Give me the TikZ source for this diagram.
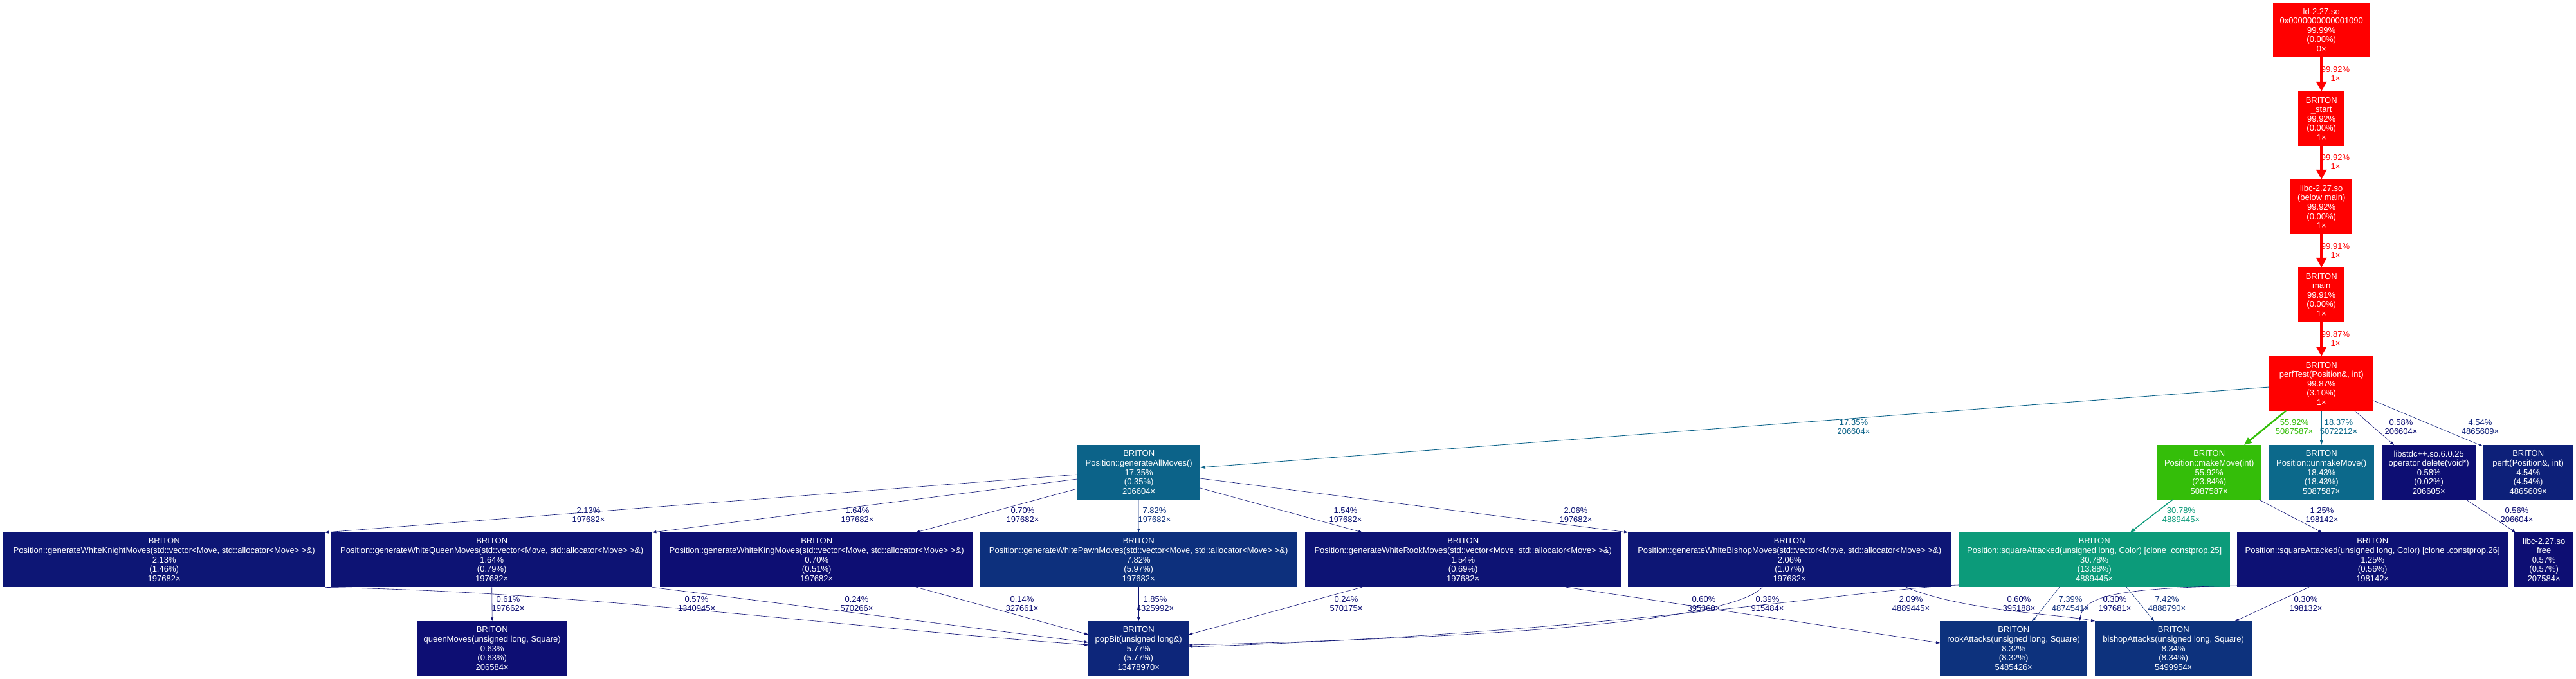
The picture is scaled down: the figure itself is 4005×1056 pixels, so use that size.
\documentclass[tikz,border=0pt]{standalone}
\usepackage{fontspec}
\setmainfont{Liberation Sans}
\usetikzlibrary{arrows.meta,calc}
\definecolor{cRed}{HTML}{FF0000}
\definecolor{cGreen}{HTML}{34BE09}
\definecolor{cTealA}{HTML}{0C6389}
\definecolor{cTealB}{HTML}{0C698B}
\definecolor{cSea}{HTML}{0C9B7A}
\definecolor{cNa}{HTML}{0D0E73}
\definecolor{cNb}{HTML}{0D1174}
\definecolor{cNc}{HTML}{0D1374}
\definecolor{cNd}{HTML}{0D1475}
\definecolor{cNe}{HTML}{0D1675}
\definecolor{cNf}{HTML}{0D2079}
\definecolor{cNg}{HTML}{0D267A}
\definecolor{cNh}{HTML}{0D2E7C}
\definecolor{cNi}{HTML}{0D307D}
\definecolor{cNj}{HTML}{0D327D}
\begin{document}
\begin{tikzpicture}[x=1pt,y=-1pt,
  gn/.style={anchor=north west, minimum height=85pt, inner sep=0pt, align=center, text=white,
    font=\fontsize{13}{14.6}\selectfont},
  lb/.style={inner sep=0pt, align=center, font=\fontsize{13}{14.6}\selectfont},
  ered/.style={draw=cRed, line width=5pt, -{Triangle[length=15pt,width=16pt]}},
  egreen/.style={draw=cGreen, line width=2.7pt, -{Triangle[length=12pt,width=10pt]}},
  esea/.style={draw=cSea, line width=1.5pt, -{Triangle[length=8pt,width=6pt]}},
  eteal/.style={line width=0.85pt, -{Triangle[length=8pt,width=5pt]}},
  ethin/.style={line width=0.6pt, -{Triangle[length=6pt,width=4pt]}}
]
\fill[white] (0,0) rectangle (4005,1056);
\useasboundingbox (0,0) rectangle (4005,1056);

% nodes
\node[gn, fill=cRed, minimum width=150pt] (ld) at (3534,4) {ld-2.27.so\\0x0000000000001090\\99.99\%\\(0.00\%)\\0×};
\node[gn, fill=cRed, minimum width=72pt] (start) at (3573,142) {BRITON\\\_start\\99.92\%\\(0.00\%)\\1×};
\node[gn, fill=cRed, minimum width=96pt] (libcm) at (3561,279) {libc-2.27.so\\(below main)\\99.92\%\\(0.00\%)\\1×};
\node[gn, fill=cRed, minimum width=72pt] (main) at (3573,416) {BRITON\\main\\99.91\%\\(0.00\%)\\1×};
\node[gn, fill=cRed, minimum width=162pt] (perf) at (3528,554) {BRITON\\perfTest(Position\&, int)\\99.87\%\\(3.10\%)\\1×};

\node[gn, fill=cTealA, minimum width=191pt] (gam) at (1675,692) {BRITON\\Position::generateAllMoves()\\17.35\%\\(0.35\%)\\206604×};
\node[gn, fill=cGreen, minimum width=163pt] (make) at (3353,692) {BRITON\\Position::makeMove(int)\\55.92\%\\(23.84\%)\\5087587×};
\node[gn, fill=cTealB, minimum width=164pt] (unmake) at (3527,692) {BRITON\\Position::unmakeMove()\\18.43\%\\(18.43\%)\\5087587×};
\node[gn, fill=cNa, minimum width=146pt] (del) at (3703,692) {libstdc++.so.6.0.25\\operator delete(void*)\\0.58\%\\(0.02\%)\\206605×};
\node[gn, fill=cNf, minimum width=141pt] (perft) at (3860,692) {BRITON\\perft(Position\&, int)\\4.54\%\\(4.54\%)\\4865609×};

\node[gn, fill=cNe, minimum width=500pt] (knight) at (5,828) {BRITON\\Position::generateWhiteKnightMoves(std::vector<Move, std::allocator<Move> >\&)\\2.13\%\\(1.46\%)\\197682×};
\node[gn, fill=cNc, minimum width=499pt] (queen) at (515,828) {BRITON\\Position::generateWhiteQueenMoves(std::vector<Move, std::allocator<Move> >\&)\\1.64\%\\(0.79\%)\\197682×};
\node[gn, fill=cNa, minimum width=487pt] (king) at (1026,828) {BRITON\\Position::generateWhiteKingMoves(std::vector<Move, std::allocator<Move> >\&)\\0.70\%\\(0.51\%)\\197682×};
\node[gn, fill=cNi, minimum width=494pt] (pawn) at (1523,828) {BRITON\\Position::generateWhitePawnMoves(std::vector<Move, std::allocator<Move> >\&)\\7.82\%\\(5.97\%)\\197682×};
\node[gn, fill=cNc, minimum width=491pt] (rook) at (2029,828) {BRITON\\Position::generateWhiteRookMoves(std::vector<Move, std::allocator<Move> >\&)\\1.54\%\\(0.69\%)\\197682×};
\node[gn, fill=cNe, minimum width=502pt] (bishop) at (2531,828) {BRITON\\Position::generateWhiteBishopMoves(std::vector<Move, std::allocator<Move> >\&)\\2.06\%\\(1.07\%)\\197682×};
\node[gn, fill=cSea, minimum width=422pt] (sqa) at (3045,828) {BRITON\\Position::squareAttacked(unsigned long, Color) [clone .constprop.25]\\30.78\%\\(13.88\%)\\4889445×};
\node[gn, fill=cNb, minimum width=421pt] (sqb) at (3478,828) {BRITON\\Position::squareAttacked(unsigned long, Color) [clone .constprop.26]\\1.25\%\\(0.56\%)\\198142×};
\node[gn, fill=cNa, minimum width=92pt] (free) at (3909,828) {libc-2.27.so\\free\\0.57\%\\(0.57\%)\\207584×};

\node[gn, fill=cNa, minimum width=234pt] (qm) at (648,966) {BRITON\\queenMoves(unsigned long, Square)\\0.63\%\\(0.63\%)\\206584×};
\node[gn, fill=cNg, minimum width=156pt] (pop) at (1692,966) {BRITON\\popBit(unsigned long\&)\\5.77\%\\(5.77\%)\\13478970×};
\node[gn, fill=cNj, minimum width=229pt] (ra) at (3016,966) {BRITON\\rookAttacks(unsigned long, Square)\\8.32\%\\(8.32\%)\\5485426×};
\node[gn, fill=cNj, minimum width=244pt] (ba) at (3257,966) {BRITON\\bishopAttacks(unsigned long, Square)\\8.34\%\\(8.34\%)\\5499954×};

% edges: top chain
\draw[ered] (ld.south) -- (start.north);
\draw[ered] (start.south) -- (libcm.north);
\draw[ered] (libcm.south) -- (main.north);
\draw[ered] (main.south) -- (perf.north);

% from perfTest
\draw[eteal, draw=cTealA] ($(perf.north west)+(0,48)$) -- ($(gam.north west)+(191,35)$);
\draw[egreen] ($(perf.north west)+(26,85)$) -- ($(make.north west)+(136,0)$);
\draw[eteal, draw=cTealB] (perf.south) -- (unmake.north);
\draw[ethin, draw=cNa] ($(perf.north west)+(133,85)$) -- ($(del.north west)+(19,0)$);
\draw[ethin, draw=cNf] ($(perf.north west)+(162,69)$) -- ($(perft.north west)+(0,2)$);

% from generateAllMoves
\draw[ethin, draw=cNe] ($(gam.north west)+(0,46)$) -- ($(knight.north west)+(500,0)$);
\draw[ethin, draw=cNc] ($(gam.north west)+(0,53)$) -- (queen.north east);
\draw[ethin, draw=cNa] ($(gam.north west)+(0,68)$) -- ($(king.north west)+(398,0)$);
\draw[ethin, draw=cNi] ($(gam.north west)+(95,84)$) -- (pawn.north);
\draw[ethin, draw=cNc] ($(gam.north west)+(191,67)$) -- ($(rook.north west)+(89,0)$);
\draw[ethin, draw=cNe] ($(gam.north west)+(191,52)$) -- (bishop.north west);

% from makeMove, delete
\draw[esea] ($(make.north west)+(25,85)$) -- ($(sqa.north west)+(267,0)$);
\draw[ethin, draw=cNb] ($(make.north west)+(159,85)$) -- ($(sqb.north west)+(132,0)$);
\draw[ethin, draw=cNa] ($(del.north west)+(131,85)$) -- ($(free.north west)+(2,0)$);

% row 3 to row 4
\draw[ethin, draw=cNa] (queen.south) -- (qm.north);
\draw[ethin, draw=cNa] (knight.south east) .. controls (900,920) and (1300,975) .. ($(pop.north west)+(0,37)$);
\draw[ethin, draw=cNa] (queen.south east) -- ($(pop.north west)+(0,33)$);
\draw[ethin, draw=cNa] ($(king.north west)+(398,85)$) -- ($(pop.north west)+(0,21)$);
\draw[ethin, draw=cNd] (pawn.south) -- (pop.north);
\draw[ethin, draw=cNa] ($(rook.north west)+(89,85)$) -- ($(pop.north west)+(156,21)$);
\draw[ethin, draw=cNa] ($(rook.north west)+(405,85)$) -- ($(ra.north west)+(0,34)$);
\draw[ethin, draw=cNa] ($(bishop.north west)+(209,85)$) .. controls (2700,960) and (2400,990) .. ($(pop.north west)+(156,37)$);
\draw[ethin, draw=cNe] ($(sqa.north west)+(0,82)$) .. controls (2900,915) and (2500,985) .. ($(pop.north west)+(156,40)$);
\draw[ethin, draw=cNa] ($(bishop.north west)+(432,85)$) .. controls (3050,950) and (3200,955) .. (ba.north west);
\draw[ethin, draw=cNh] ($(sqa.north west)+(157,85)$) -- ($(ra.north west)+(144,0)$);
\draw[ethin, draw=cNa] ($(sqb.north west)+(0,83)$) .. controls (3300,915) and (3240,925) .. ($(ra.north west)+(217,0)$);
\draw[ethin, draw=cNh] ($(sqa.north west)+(261,85)$) -- ($(ba.north west)+(92,0)$);
\draw[ethin, draw=cNa] ($(sqb.north west)+(112,85)$) -- ($(ba.north west)+(218,0)$);

% labels
\node[lb, text=cRed] (l1) at (3631,115) {99.92\%\\1×};
\node[lb, text=cRed] (l2) at (3631,252) {99.92\%\\1×};
\node[lb, text=cRed] (l3) at (3631,390) {99.91\%\\1×};
\node[lb, text=cRed] (l4) at (3631,527) {99.87\%\\1×};

\node[lb, text=cTealA] (l5) at (2882,664) {17.35\%\\206604×};
\node[lb, text=cGreen] (l6) at (3567,664) {55.92\%\\5087587×};
\node[lb, text=cTealB] (l7) at (3636,664) {18.37\%\\5072212×};
\node[lb, text=cNa] (l8) at (3733,664) {0.58\%\\206604×};
\node[lb, text=cNf] (l9) at (3856,664) {4.54\%\\4865609×};

\node[lb, text=cNe] (l10) at (915,801) {2.13\%\\197682×};
\node[lb, text=cNc] (l11) at (1333,801) {1.64\%\\197682×};
\node[lb, text=cNa] (l12) at (1590,801) {0.70\%\\197682×};
\node[lb, text=cNi] (l13) at (1795,801) {7.82\%\\197682×};
\node[lb, text=cNc] (l14) at (2092,801) {1.54\%\\197682×};
\node[lb, text=cNe] (l15) at (2450,801) {2.06\%\\197682×};
\node[lb, text=cSea] (l16) at (3391,801) {30.78\%\\4889445×};
\node[lb, text=cNb] (l17) at (3610,801) {1.25\%\\198142×};
\node[lb, text=cNa] (l18) at (3913,801) {0.56\%\\206604×};

\node[lb, text=cNa] (l19) at (790,939) {0.61\%\\197662×};
\node[lb, text=cNa] (l20) at (1083,939) {0.57\%\\1340945×};
\node[lb, text=cNa] (l21) at (1332,939) {0.24\%\\570266×};
\node[lb, text=cNa] (l22) at (1589,939) {0.14\%\\327661×};
\node[lb, text=cNd] (l23) at (1796,939) {1.85\%\\4325992×};
\node[lb, text=cNa] (l24) at (2093,939) {0.24\%\\570175×};
\node[lb, text=cNa] (l25) at (2649,939) {0.60\%\\395360×};
\node[lb, text=cNa] (l26) at (2748,939) {0.39\%\\915484×};
\node[lb, text=cNe] (l27) at (2971,939) {2.09\%\\4889445×};
\node[lb, text=cNa] (l28) at (3139,939) {0.60\%\\395188×};
\node[lb, text=cNh] (l29) at (3219,939) {7.39\%\\4874541×};
\node[lb, text=cNa] (l30) at (3288,939) {0.30\%\\197681×};
\node[lb, text=cNh] (l31) at (3369,939) {7.42\%\\4888790×};
\node[lb, text=cNa] (l32) at (3585,939) {0.30\%\\198132×};
\end{tikzpicture}
\end{document}
